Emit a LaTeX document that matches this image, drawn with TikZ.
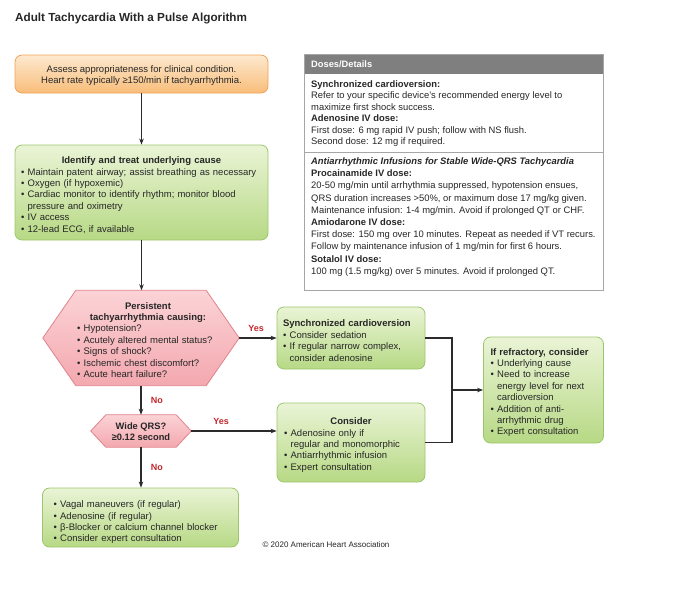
\documentclass[tikz,border=0pt]{standalone}
\usepackage{fontspec}
\setmainfont{Liberation Sans}
\usetikzlibrary{arrows.meta,calc}
\definecolor{orT}{HTML}{FDE9CF}
\definecolor{orB}{HTML}{F8BD7A}
\definecolor{orD}{HTML}{EFA357}
\definecolor{grT}{HTML}{EAF4D6}
\definecolor{grB}{HTML}{B7D985}
\definecolor{grD}{HTML}{9DC66C}
\definecolor{pkT}{HTML}{FBD3D6}
\definecolor{pkB}{HTML}{F3A8AF}
\definecolor{pkD}{HTML}{E0838B}
\definecolor{hdr}{HTML}{7F7F7F}
\definecolor{bord}{HTML}{A6A6A6}
\definecolor{lab}{HTML}{C1272D}
\definecolor{txt}{HTML}{262626}
\definecolor{ln}{HTML}{2B2B2B}
\newcommand{\bul}[1]{\par\hangindent=0.7em\hangafter=1\noindent\makebox[0.7em][l]{\textbullet}#1}
\newcommand{\ttl}[1]{{\centering\bfseries #1\par}}
\newcommand{\fin}{\par\vspace*{-5pt}}
\tikzset{
  x=1pt, y=1pt,
  every node/.style={text=txt, font=\fontsize{9.5}{11.4}\selectfont},
  gbox/.style={draw=grD, line width=0.8pt, rounded corners=7pt, top color=grT, bottom color=grB, align=left, inner ysep=3pt},
  obox/.style={draw=orD, line width=0.8pt, rounded corners=7pt, top color=orT, bottom color=orB, align=center},
  hexfill/.style={draw=pkD, line width=0.8pt, top color=pkT, bottom color=pkB},
  ghost/.style={draw=none, fill=none, inner sep=0pt},
  arr/.style={draw=ln, line width=1.1pt, -{Stealth[length=6pt,width=4.5pt]}},
  conn/.style={draw=ln, line width=1.1pt},
  yn/.style={text=lab, font=\fontsize{9}{10}\selectfont\bfseries},
  dtext/.style={align=left, anchor=north west, inner sep=0pt, font=\fontsize{9.4}{11.4}\selectfont}
}
\begin{document}
\begin{tikzpicture}
\useasboundingbox (0,0) rectangle (677,-589);
\node[anchor=west, inner sep=0pt, font=\fontsize{11.7}{13}\selectfont\bfseries] (title) at (15,-19) {Adult Tachycardia With a Pulse Algorithm};

% box 1
\node[obox, minimum width=253, minimum height=38, inner sep=0pt] (b1) at (141.5,-74) {};
\node[align=center, inner sep=0pt] (b1t) at (141.5,-75.5)
  {Assess appropriateness for clinical condition.\\Heart rate typically ≥150/min if tachyarrhythmia.};

% box 2
\node[gbox, text width=241, inner xsep=6pt, minimum height=95] (b2) at (141.5,-192.5) {%
\ttl{Identify and treat underlying cause}%
\bul{Maintain patent airway; assist breathing as necessary}%
\bul{Oxygen (if hypoxemic)}%
\bul{Cardiac monitor to identify rhythm; monitor blood\newline pressure and oximetry}%
\bul{IV access}%
\bul{12-lead ECG, if available}\fin};

% hexagon A
\node[ghost, minimum width=196, minimum height=95] (hA) at (141,-338) {};
\path[hexfill] (hA.west) -- ([xshift=33pt]hA.north west) -- ([xshift=-33pt]hA.north east) -- (hA.east)
  -- ([xshift=-33pt]hA.south east) -- ([xshift=33pt]hA.south west) -- cycle;
\node[align=left, text width=142, inner sep=0pt] (hAt) at (148,-340) {%
\ttl{Persistent\\tachyarrhythmia causing:}%
\bul{Hypotension?}%
\bul{Acutely altered mental status?}%
\bul{Signs of shock?}%
\bul{Ischemic chest discomfort?}%
\bul{Acute heart failure?}\par};

% box 3
\node[gbox, text width=136, inner xsep=6pt, minimum height=62] (b3) at (351,-338) {%
{\bfseries Synchronized cardioversion\par}%
\bul{Consider sedation}%
\bul{If regular narrow complex,\newline consider adenosine}\fin};

% hexagon B
\node[ghost, minimum width=100, minimum height=32] (hB) at (141,-431) {};
\path[hexfill] (hB.west) -- ([xshift=15pt]hB.north west) -- ([xshift=-15pt]hB.north east) -- (hB.east)
  -- ([xshift=-15pt]hB.south east) -- ([xshift=15pt]hB.south west) -- cycle;
\node[align=center, inner sep=0pt, font=\fontsize{9.3}{11.5}\selectfont\bfseries] (hBt) at (141,-431.5) {Wide QRS?\\≥0.12 second};

% box 4
\node[gbox, text width=134, inner xsep=7pt, minimum height=79] (b4) at (351,-442.5) {%
\ttl{Consider}%
\bul{Adenosine only if\newline regular and monomorphic}%
\bul{Antiarrhythmic infusion}%
\bul{Expert consultation}\fin};

% box 6
\node[gbox, text width=106, inner xsep=7pt, minimum height=106] (b6) at (543.5,-390) {%
{\bfseries If refractory, consider\par}%
\bul{Underlying cause}%
\bul{Need to increase\newline energy level for next\newline cardioversion}%
\bul{Addition of anti-\newline arrhythmic drug}%
\bul{Expert consultation}\fin};

% box 5
\node[gbox, text width=174, inner xsep=11pt, minimum height=59] (b5) at (140.5,-517.5) {%
\bul{Vagal maneuvers (if regular)}%
\bul{Adenosine (if regular)}%
\bul{β-Blocker or calcium channel blocker}%
\bul{Consider expert consultation}\fin};

\node[inner sep=0pt, font=\fontsize{8}{9}\selectfont] (copy) at (326,-545) {© 2020 American Heart Association};

% connectors
\draw[arr] (b1.south) -- (b1.south |- b2.north);
\draw[arr] (b2.south) -- (b2.south |- hA.north);
\draw[arr] (hA.east) -- (hA.east -| b3.west) node[yn, pos=0.45, above=3pt] (yA) {Yes};
\draw[arr] (hA.south) -- (hB.north) node[yn, midway, right=6pt] (nA) {No};
\draw[arr] (hB.east) -- (hB.east -| b4.west) node[yn, pos=0.35, above=3pt] (yB) {Yes};
\draw[arr] (hB.south) -- (hB.south |- b5.north) node[yn, midway, right=6pt] (nB) {No};
\coordinate (j) at (452,-390);
\draw[conn] (b3.east) -| (j) |- (b4.east);
\draw[arr] (j) -- (b6.west);

% doses box
\node[ghost, minimum width=298, minimum height=235] (dose) at (454,-172.5) {};
\fill[hdr] (dose.north west) rectangle ($(dose.north east)+(0,-19)$);
\draw[bord, line width=0.8pt] (dose.north west) rectangle (dose.south east);
\draw[bord, line width=0.8pt] (305,-152) -- (603,-152);
\node[anchor=west, inner sep=0pt, text=white, font=\fontsize{9.3}{10}\selectfont\bfseries] (dh) at (311,-64.5) {Doses/Details};
\node[dtext] (d1) at (311,-80.5) {%
\textbf{Synchronized cardioversion:}\\
Refer to your specific device’s recommended energy level to\\
maximize first shock success.\\
\textbf{Adenosine IV dose:}\\
First dose: 6 mg rapid IV push; follow with NS flush.\\
Second dose: 12 mg if required.};
\node[dtext, font=\fontsize{9.4}{12.2}\selectfont] (d2) at (311,-157.5) {%
\textbf{\itshape Antiarrhythmic Infusions for Stable Wide-QRS Tachycardia}\\
\textbf{Procainamide IV dose:}\\
20-50 mg/min until arrhythmia suppressed, hypotension ensues,\\
QRS duration increases >50\%, or maximum dose 17 mg/kg given.\\
Maintenance infusion: 1-4 mg/min. Avoid if prolonged QT or CHF.\\
\textbf{Amiodarone IV dose:}\\
First dose: 150 mg over 10 minutes. Repeat as needed if VT recurs.\\
Follow by maintenance infusion of 1 mg/min for first 6 hours.\\
\textbf{Sotalol IV dose:}\\
100 mg (1.5 mg/kg) over 5 minutes. Avoid if prolonged QT.};
\end{tikzpicture}
\end{document}
